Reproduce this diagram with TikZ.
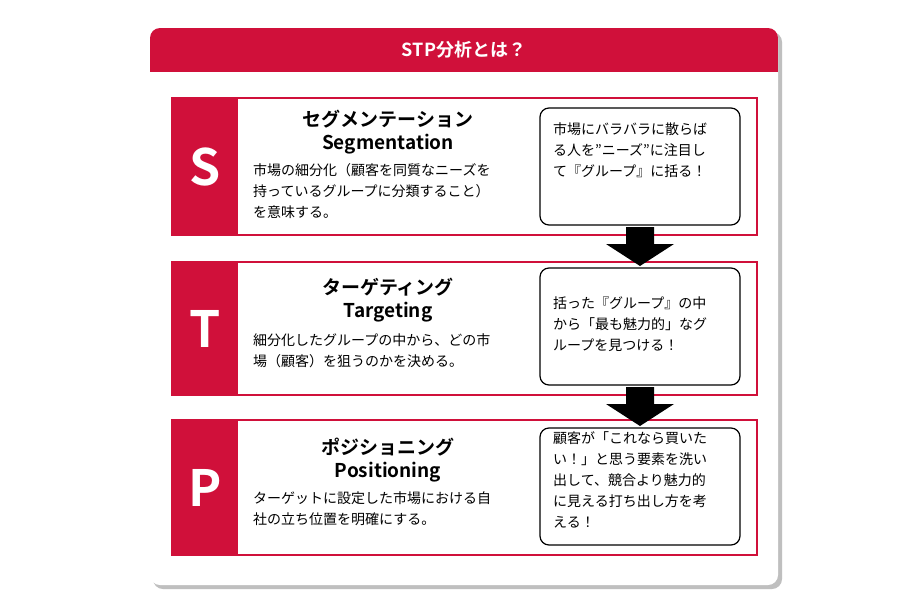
\documentclass[tikz,border=0pt]{standalone}
\usepackage{fontspec}
\setmainfont{Noto Sans CJK JP}
\newfontfamily\jpb{Noto Sans CJK JP Bold}
\definecolor{stpred}{HTML}{D0103A}
\tikzset{
 rowbox/.style={draw=stpred,line width=1.2pt,fill=white},
 letter/.style={fill=stpred,text=white,font=\jpb\fontsize{50}{50}\selectfont},
 note/.style={draw=black,line width=1.2pt,rounded corners=9pt,fill=white,minimum width=200pt,minimum height=117pt},
 notetext/.style={align=left,anchor=north west,font=\fontsize{14}{21}\selectfont,inner sep=0pt},
 title/.style={font=\jpb\fontsize{19}{23}\selectfont,align=center},
 desc/.style={align=left,font=\fontsize{14}{21}\selectfont,anchor=north west,inner sep=0pt},
 bigarrow/.style={fill=black}
}
\begin{document}
\begin{tikzpicture}[x=1pt,y=-1pt]
\useasboundingbox (0,0) rectangle (900,600);
\fill[white] (0,0) rectangle (900,600);
\fill[black!25,rounded corners=10pt] (153,32) rectangle (782,589);
\node[fill=white,rounded corners=10pt,minimum width=628pt,minimum height=557pt,inner sep=0pt] (card) at (464,306.5) {};
\begin{scope}
\clip[rounded corners=10pt] (150,28) rectangle (778,585);
\fill[stpred] (150,28) rectangle (778,72);
\end{scope}
\node[text=white,font=\jpb\fontsize{18}{20}\selectfont] (head) at (464,50) {STP分析とは？};
\foreach \n/\ya/\yb/\L in {s/98/235/S,t/262/395/T,p/420/555/P}{
  \draw[rowbox] (172,\ya) rectangle (757,\yb);
  \node[letter,minimum width=66pt,minimum height={\yb-\ya},inner sep=0pt,anchor=north west] (L\n) at (172,\ya) {\L};
}
\node[title] (ts) at (388,132) {セグメンテーション\\Segmentation};
\node[desc] (ds) at (253,163) {市場の細分化（顧客を同質なニーズを\\持っているグループに分類すること）\\を意味する。};
\node[title] (tt) at (388,300) {ターゲティング\\Targeting};
\node[desc] (dt) at (253,333) {細分化したグループの中から、どの市\\場（顧客）を狙うのかを決める。};
\node[title] (tp) at (388,460) {ポジショニング\\Positioning};
\node[desc] (dp) at (253,491) {ターゲットに設定した市場における自\\社の立ち位置を明確にする。};
\node[note] (ns) at (640,166.5) {};
\node[notetext] (ts2) at (553,122) {市場にバラバラに散らば\\る人を”ニーズ”に注目し\\て『グループ』に括る！};
\node[note] (nt) at (640,326.5) {};
\node[notetext] (tt2) at (553,296) {括った『グループ』の中\\から「最も魅力的」なグ\\ループを見つける！};
\node[note] (np) at (640,486.5) {};
\node[notetext] (tp2) at (553,431) {顧客が「これなら買いた\\い！」と思う要素を洗い\\出して、競合より魅力的\\に見える打ち出し方を考\\える！};
\fill[bigarrow] (626,227) -- (654,227) -- (654,244) -- (674,244) -- (640,266) -- (606,244) -- (626,244) -- cycle;
\fill[bigarrow] (626,387) -- (654,387) -- (654,404) -- (674,404) -- (640,426) -- (606,404) -- (626,404) -- cycle;
\end{tikzpicture}
\end{document}
